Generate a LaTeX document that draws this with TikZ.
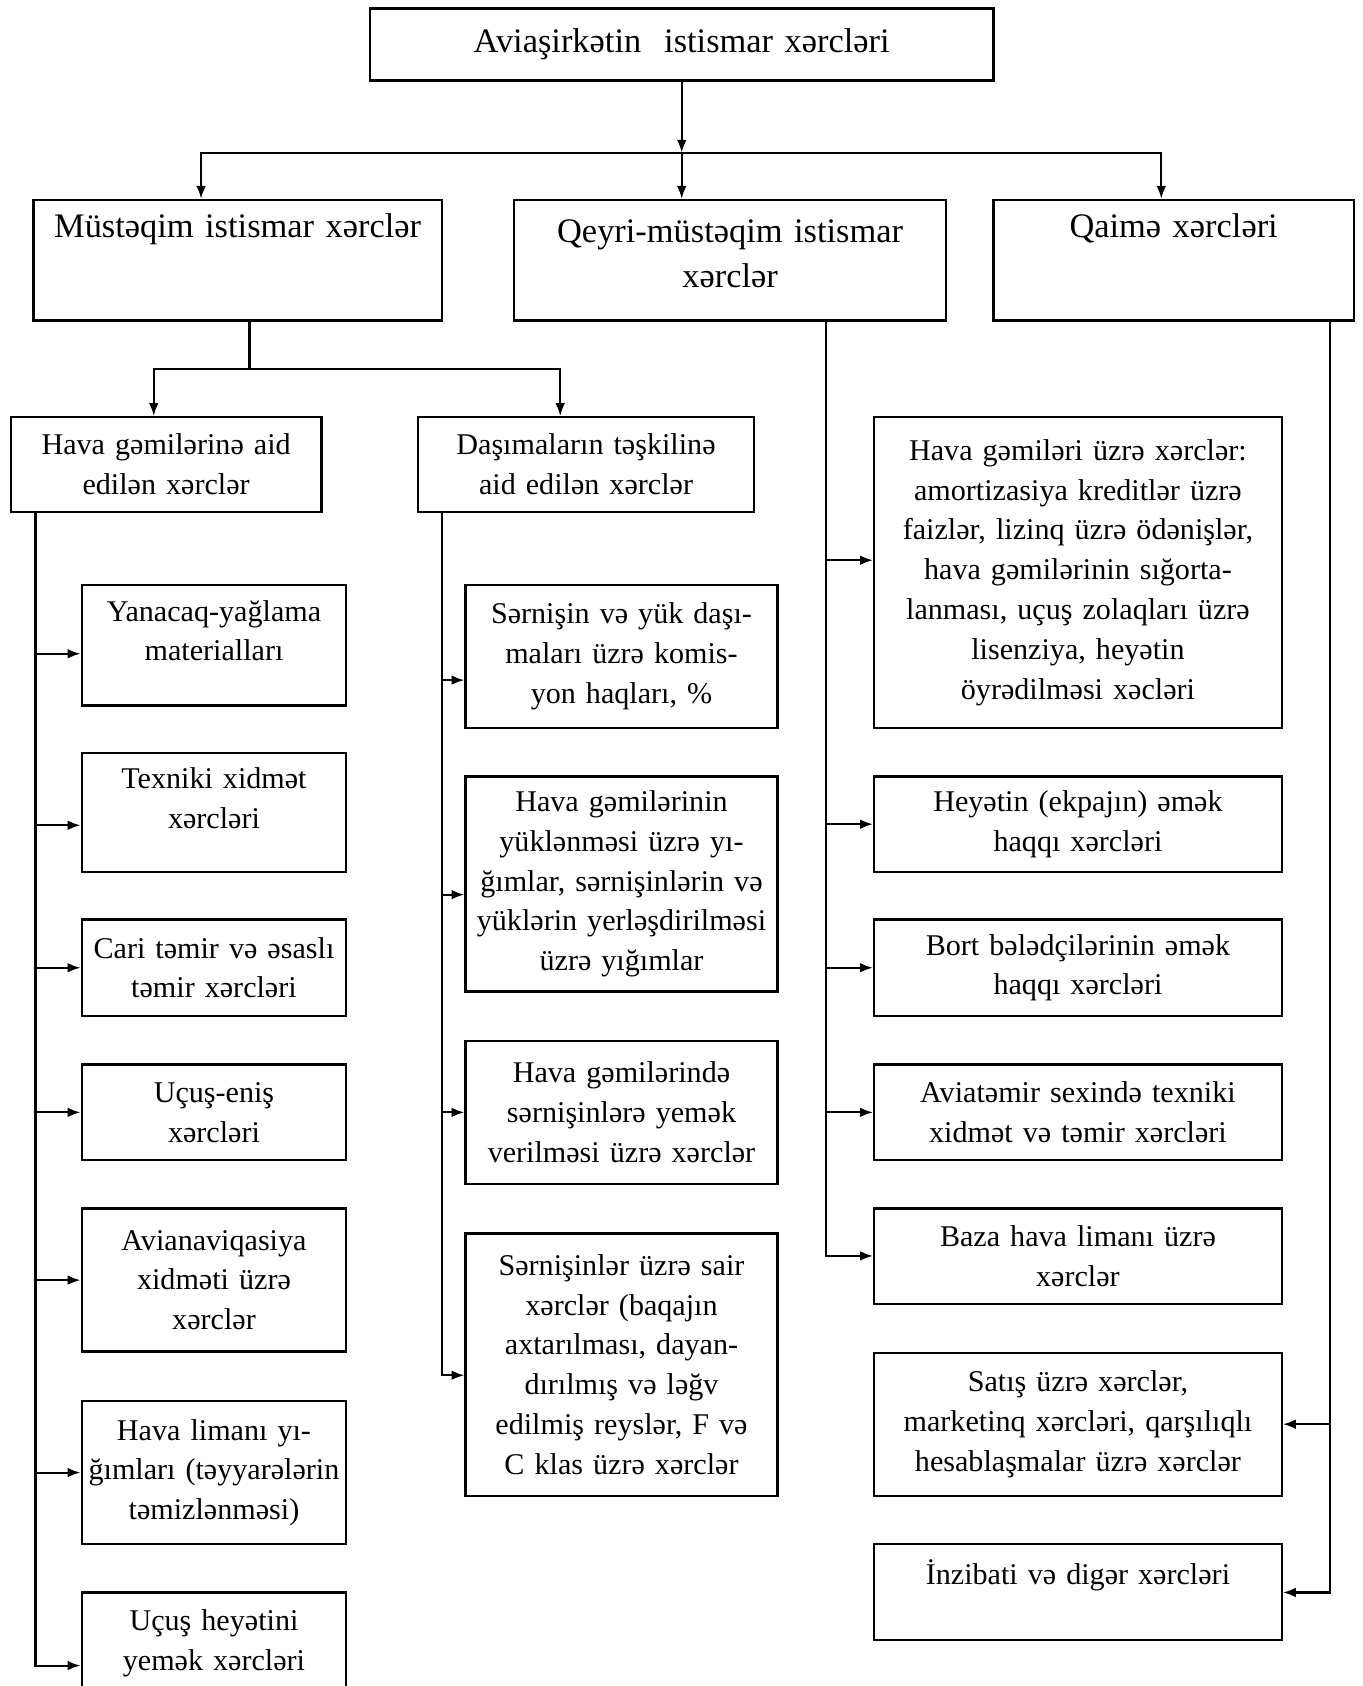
\documentclass[tikz,border=0pt]{standalone}
\usepackage{fontspec}
\setmainfont{Liberation Serif}
\usetikzlibrary{arrows.meta}

\begin{document}
\begin{tikzpicture}[x=0.5pt,y=-0.5pt,
  box/.style={draw,line width=1.1pt,align=center,inner xsep=0pt,inner ysep=2pt,
    font=\fontsize{14pt}{18.5pt}\selectfont},
  headbox/.style={box,font=\fontsize{16pt}{21pt}\selectfont},
  leftbox/.style={box,text width=123pt},
  midbox/.style={box,text width=145pt},
  rightbox/.style={box,text width=189.5pt},
  link/.style={line width=1pt},
  arr/.style={link,-{Latex[length=6pt,width=4.5pt]}}]
  \useasboundingbox (0,0) rectangle (1267,1568);

  \node[headbox,text width=290pt,minimum height=33.5pt] (top) at (634,41.5) {Aviaşirkətin\ \ istismar xərcləri};

  \node[headbox,text width=190pt,minimum height=56pt] (mus) at (221,242) {Müstəqim istismar xərclər\\[11pt]\mbox{}};
  \node[headbox,text width=201pt,minimum height=56pt] (qey) at (679,242) {Qeyri-müstəqim istismar\\xərclər\\[-15pt]\mbox{}};
  \node[headbox,text width=167.5pt,minimum height=56pt] (qai) at (1091.5,242) {Qaimə xərcləri\\[11pt]\mbox{}};

  \node[box,text width=144.5pt,minimum height=44pt] (hgm) at (154.5,432) {Hava gəmilərinə aid\\edilən xərclər};
  \node[box,text width=156pt,minimum height=44pt] (das) at (545,432) {Daşımaların təşkilinə\\aid edilən xərclər};

  \node[leftbox,minimum height=56pt] (yan) at (199,600) {Yanacaq-yağlama\\materialları\\[-5pt]\mbox{}};
  \node[leftbox,minimum height=55.5pt] (tex) at (199,755.5) {Texniki xidmət\\xərcləri\\[-5pt]\mbox{}};
  \node[leftbox,minimum height=45pt] (car) at (199,900) {Cari təmir və əsaslı\\təmir xərcləri};
  \node[leftbox,minimum height=44.5pt] (ucu) at (199,1034.5) {Uçuş-eniş\\xərcləri};
  \node[leftbox,minimum height=66.5pt] (avn) at (199,1190.5) {Avianaviqasiya\\xidməti üzrə\\xərclər};
  \node[leftbox,minimum height=66.5pt] (hvl) at (199,1369.5) {Hava limanı yı-\\ğımları (təyyarələrin\\təmizlənməsi)};
  \node[leftbox,minimum height=47pt] (uhy) at (199,1528) {Uçuş heyətini\\yemək xərcləri};

  \node[midbox,minimum height=66.5pt] (ser) at (578,610.5) {Sərnişin və yük daşı-\\maları üzrə komis-\\yon haqları, \%};
  \node[midbox,minimum height=100pt] (hgn) at (578,822) {Hava gəmilərinin\\yüklənməsi üzrə yı-\\ğımlar, sərnişinlərin və\\yüklərin yerləşdirilməsi\\üzrə yığımlar};
  \node[midbox,minimum height=66.5pt] (hgd) at (578,1034.5) {Hava gəmilərində\\sərnişinlərə yemək\\verilməsi üzrə xərclər};
  \node[midbox,minimum height=122pt] (sai) at (578,1269) {Sərnişinlər üzrə sair\\xərclər (baqajın\\axtarılması, dayan-\\dırılmış və ləğv\\edilmiş reyslər, F və\\C klas üzrə xərclər};

  \node[rightbox,minimum height=144.5pt] (hgu) at (1002.5,532.5) {Hava gəmiləri üzrə xərclər:\\amortizasiya kreditlər üzrə\\faizlər, lizinq üzrə ödənişlər,\\hava gəmilərinin sığorta-\\lanması, uçuş zolaqları üzrə\\lisenziya, heyətin\\öyrədilməsi xəcləri};
  \node[rightbox,minimum height=44.5pt] (hey) at (1002.5,766.5) {Heyətin (ekpajın) əmək\\haqqı xərcləri};
  \node[rightbox,minimum height=45pt] (bor) at (1002.5,900) {Bort bələdçilərinin əmək\\haqqı xərcləri};
  \node[rightbox,minimum height=44.5pt] (avt) at (1002.5,1034.5) {Aviatəmir sexində texniki\\xidmət və təmir xərcləri};
  \node[rightbox,minimum height=44.5pt] (baz) at (1002.5,1168.5) {Baza hava limanı üzrə\\xərclər};
  \node[rightbox,minimum height=66.5pt] (sat) at (1002.5,1324.5) {Satış üzrə xərclər,\\marketinq xərcləri, qarşılıqlı\\hesablaşmalar üzrə xərclər};
  \node[rightbox,minimum height=44.5pt] (inz) at (1002.5,1480.5) {İnzibati və digər xərcləri\\\mbox{}};

  \coordinate (b1) at (634,142);
  \coordinate (jm) at (187,142);
  \coordinate (jq) at (1080,142);
  \draw[arr] (top.south) -- (b1);
  \draw[arr] (b1) -| (jm |- mus.north);
  \draw[arr] (b1) -- (b1 |- qey.north);
  \draw[arr] (b1) -| (jq |- qai.north);

  \coordinate (k1) at (232,343);
  \coordinate (ka) at (143,343);
  \coordinate (kb) at (521,343);
  \draw[link] (mus.south -| k1) -- (k1);
  \draw[arr] (k1) -| (ka |- hgm.north);
  \draw[arr] (k1) -| (kb |- das.north);

  \coordinate (sl) at (33,1549);
  \draw[arr] (hgm.south -| sl) -- (sl) -- (sl -| uhy.west);
  \foreach \n/\d in {yan/-4pt,tex/-6pt,car/0pt,ucu/0pt,avn/0pt,hvl/0pt} {
    \path (\n.west) ++(0,\d) coordinate (\n-in);
    \draw[arr] (sl |- \n-in) -- (\n-in);
  }

  \coordinate (sm) at (411,1279);
  \draw[arr] (das.south -| sm) -- (sm) -- (sm -| sai.west);
  \foreach \n/\d in {ser/-11pt,hgn/-5pt,hgd/0pt} {
    \path (\n.west) ++(0,\d) coordinate (\n-in);
    \draw[arr] (sm |- \n-in) -- (\n-in);
  }

  \coordinate (sr) at (768,1168);
  \draw[arr] (qey.south -| sr) -- (sr) -- (sr -| baz.west);
  \foreach \n/\d in {hgu/5.75pt,hey/0pt,bor/0pt,avt/0pt} {
    \path (\n.west) ++(0,\d) coordinate (\n-in);
    \draw[arr] (sr |- \n-in) -- (\n-in);
  }

  \coordinate (sq) at (1237,1481);
  \draw[arr] (qai.south -| sq) -- (sq) -- (sq -| inz.east);
  \draw[arr] (sq |- sat.east) -- (sat.east);
\end{tikzpicture}
\end{document}
